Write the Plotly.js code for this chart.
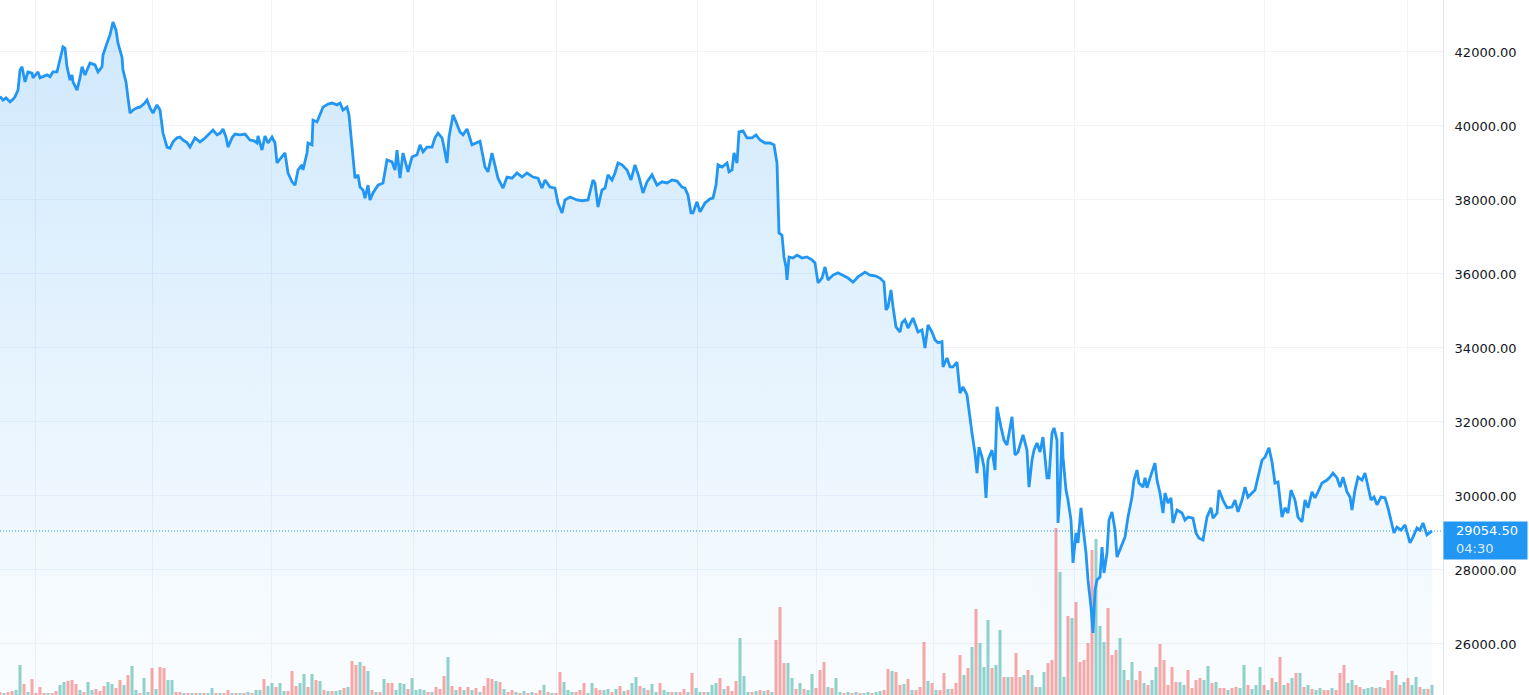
<!DOCTYPE html>
<html><head><meta charset="utf-8">
<script src="https://cdn.plot.ly/plotly-3.0.1.min.js"></script>
<style>html,body{margin:0;padding:0;background:#fff;overflow:hidden}#chart{width:1529px;height:695px}</style>
</head><body><div id="chart"></div>
<script>
// bar number (time) of each sampled close
const priceBar = [
0,3,6,10,13,15,18,20,22,25, 28,32,33,38,40,44,47,50,53,57, 60,63,65,67,70,72,73,77,80,82, 85,90,95,98,102,103,107,110,113,116,
118,122,123,126,128,130,133,137,140,144, 147,150,153,157,160,163,167,170,173,177, 180,183,187,190,195,200,204,207,213,217,
220,223,226,228,232,235,240,245,250,254, 257,258,262,265,268,272,275,277,282,285, 288,292,295,298,
302,303,307,308,312,313,317,320,323,328, 332,337,340,343,347,349,351,353,355,358, 360,363,365,368,370,373,378,383,387,392,
395,397,400,403,408,412,417,420,423,427, 432,435,438,442,444,447,449,453,456,460, 463,467,472,477,480,485,488,492,495,498,
503,507,512,517,522,527,533,538,542,545, 550,555,558,562,565,570,577,582,588,
593,595,598,602,605,608,612,615,618,622, 627,631,635,639,643,647,652,657,662,667, 672,677,682,685,688,691,693,697,700,705,
710,713,716,718,722,727,729,732,734,737, 739,743,747,752,756,760,765,770,774,777, 778,779,782,784,786,787,789,793,797,802,
807,812,815,818,822,825,828,833,838,843, 848,853,858,865,870,875,880,
884,886,888,891,893,896,900,902,905,908, 913,918,922,925,928,932,935,938,942,943, 947,950,953,957,960,963,967,969,972,975,
977,979,982,984,986,988,992,995,997,1001, 1004,1007,1012,1015,1018,1023,1027,1029,1032,1034, 1037,1040,1043,1047,1049,1052,1054,1057,1058,1060,
1062,1063,1066,1068,1071,1073,1076,1078,1081,1083, 1086,1088,1091,1093,1095,1097,1100,1102,1104,1107, 1109,1112,1115,1117,
1120,1125,1128,1132,1134,1137,1139,1143,1145,1147, 1151,1155,1157,1160,1163,1165,1168,1171,1173,1177, 1182,1185,1188,1193,1196,1199,1203,1207,1211,1213,
1217,1219,1223,1227,1232,1235,1238,1242,1245,1248, 1252,1255,1258,1262,1265,1269,1272,1275,1278,1282, 1285,1288,1291,1295,1298,1302,1305,1308,1312,1315,
1318,1322,1327,1330,1333,1337,1340,1343,1347,1350, 1352,1355,1358,1362,1365,1368,1371,1374,1377,1381, 1385,1388,1392,1394,1397,1401,1405,1407,1410,1413,
1417,1420,1423,1427,1429,1432
];
const closePrice = [
40800,40700,40760,40650,40720,40790,40970,41510,41600,41190, 41460,41430,41300,41460,41300,41350,41380,41330,41460,41460, 41840,42140,42100,41600,41240,41380,41190,40970,41300,41600, 41380,41700,41650,41460,41600,41920,42240,42460,42810,42590,
42240,41860,41510,41190,40760,40350,40430,40490,40510,40600, 40700,40490,40350,40570,40430,39810,39430,39400,39570,39680, 39700,39620,39550,39430,39680,39570,39650,39730,39890,39760,
39800,39920,39700,39430,39680,39780,39760,39780,39620,39600, 39540,39730,39350,39730,39540,39700,39540,39000,39160,39270, 38730,38490,38400,38810,
38950,38810,39270,39540,39490,40160,40110,40300,40510,40590, 40620,40570,40620,40430,40510,40300,39810,39160,38590,38680, 38350,38270,38050,38400,38000,38190,38400,38460,39080,39030,
38810,39350,38590,39270,38760,39160,39220,39490,39300,39430, 39430,39680,39810,39680,39430,39000,39700,40300,40110,39840, 39760,39920,39490,39540,39590,38890,38760,39270,38890,38590,
38320,38620,38590,38730,38620,38730,38620,38590,38320,38540, 38350,38320,37920,37650,38000,38080,38000,37980,38000,
38540,38460,37810,38270,38320,38680,38540,38730,39000,38950, 38810,38540,38950,38620,38190,38490,38680,38400,38490,38460, 38540,38510,38350,38320,38130,37650,37650,37950,37680,37920,
38030,38050,38400,38950,38890,39000,38760,38810,39270,39000, 39840,39870,39680,39680,39760,39620,39540,39540,39490,39000, 38270,37110,37050,36460,36190,35840,36460,36430,36510,36430,
36460,36380,36300,35760,35890,36190,35840,35970,36030,35970, 35890,35780,35920,36050,35970,35950,35890,
35780,35030,35110,35570,35110,34570,34430,34680,34760,34540, 34810,34430,34490,34000,34620,34430,34220,34140,34170,33490, 33730,33490,33490,33620,32780,32950,32730,32270,31700,31160,
30620,31320,31050,30780,29950,30970,31240,30700,32410,31860, 31510,31380,32140,31110,31190,31650,31240,30240,30970,31240, 31430,31190,31590,30490,30490,31700,31840,31510,29270,30080,
31730,31050,30160,29890,29350,28190,29000,28730,29680,29160, 28460,27730,27000,26300,27460,27730,27810,28620,27920,28460, 29350,29570,29080,28350,
28540,28890,29430,29970,30430,30700,30350,30240,30490,30220, 30570,30890,30430,30080,29540,30080,29810,29950,29270,29620, 29540,29350,29430,29400,29000,28860,28810,29430,29680,29400,
29540,30160,29890,29680,29700,29890,29570,29890,30240,29970, 30080,30160,30510,30970,31050,31300,30920,30350,30380,29430, 29680,29540,30160,29890,29430,29300,29890,29680,30110,29950,
30110,30350,30430,30510,30620,30490,30240,30510,30110,29970, 29620,30160,30510,30430,30620,30240,29890,29970,29760,29970, 29950,29680,29270,29000,29160,29080,29220,29030,28730,28890,
29140,29080,29270,28950,29000,29054.5
];
// volume, one bar every 4 bar numbers starting at 0
const volume = [
3,2,3,4,5,30,11,3,16,2, 8,2,2,2,4,10,13,14,15,11, 5,3,13,5,6,4,9,13,11,7, 15,10,20,29,5,2,17,3,27,6,
28,27,15,15,3,3,2,2,2,2, 2,2,2,7,2,2,2,5,2,2, 2,2,3,2,5,5,16,9,12,8, 12,4,4,24,9,12,21,8,21,15,
14,5,4,4,4,5,7,8,34,30, 33,29,24,5,3,3,16,12,12,5, 12,11,6,17,5,6,5,3,3,8, 6,19,38,9,5,8,5,8,5,7,
3,9,17,16,14,13,6,3,5,3, 2,4,2,3,2,5,10,3,2,2, 23,13,5,3,3,5,12,2,12,7, 5,5,6,3,6,9,4,5,12,18,
9,7,5,11,3,12,5,3,3,3, 3,6,3,22,7,3,3,3,10,12, 17,6,9,4,14,57,19,3,3,4, 5,4,5,3,55,88,32,32,17,6,
12,6,5,21,7,25,33,8,7,17, 3,2,3,2,3,2,2,3,2,3, 4,5,26,24,23,10,11,16,5,5, 8,53,14,12,5,5,22,6,6,12,
40,20,27,48,86,52,28,75,27,30, 65,18,18,18,42,18,20,25,20,8, 8,23,32,35,167,123,18,79,77,93, 33,35,52,145,156,69,53,87,40,45,
57,25,15,33,15,24,12,10,15,28, 51,35,10,28,13,13,10,25,7,15, 17,15,29,12,13,7,7,5,7,8, 7,30,10,6,10,28,10,5,17,13,
38,10,12,17,22,22,8,10,6,5, 7,5,5,7,5,22,30,12,15,10, 8,6,7,8,7,8,7,15,24,20, 10,13,17,10,18,8,6,6,10
];
// g = up bar, r = down bar
const volumeDirection = (
"rgrrggrgrr"+"rrgrrggrrr"+"grggrrrggr"+"rgrggrggrg"+"rrggrrgrgr"+"grggrgrrgr"+"grgrggrggr"+"ggrrrggrgr"+"grgrggrgrr"+"grgrgrgrrg"+"ggrggggrgr"+"rrgrgrgrgr"+
"grrrgrgrrg"+"rgrgrrgrgr"+"rgggrrrggr"+"rggrgrgrgg"+"rgrggrggrg"+"rrgrggrggg"+"rgrrrgggrg"+"rgrgrrrggr"+"grggrrrgrg"+"grgrgrggrg"+"grrgrrgrgr"+"rrgrgrrgrr"+
"rgrgrgggrg"+"grgrrrgrgr"+"ggrrrggrgr"+"rrrrgggrrr"+"ggrgrrgrgg"+"rrrrrggrrr"+"rggrgrrgrr"+"ggrgggrgrg"+"rgrgrgrgrg"+"grrgrrrggr"+"rgggrgrrrg"+"rgrggrgrg"
).split("");
const volumeStep = 4;
const timeMarks = [35,152,271,413,556,697,816,933,1074,1264,1407];
const priceTicks = [26000,28000,30000,32000,34000,36000,38000,40000,42000];
const lastPrice = 29054.5;
const countdown = "04:30";

const priceRange = [24621, 43405];
const volumeBar = volume.map((v, i) => i * volumeStep);
const volumeColor = volumeDirection.map(d => d === "g" ? "rgba(38,166,154,0.5)" : "rgba(239,83,80,0.5)");
const topPrice = Math.max(...closePrice);
const font = "DejaVu Sans, sans-serif";

const traces = [
  {x: priceBar, y: closePrice, yaxis: "y", type: "scatter", mode: "lines",
   line: {width: 0, color: "rgba(0,0,0,0)"}, fill: "tozeroy",
   fillgradient: {type: "vertical", start: priceRange[0], stop: topPrice,
     colorscale: [[0, "rgba(33,150,243,0.02)"], [1, "rgba(33,150,243,0.21)"]]},
   hoverinfo: "skip"},
  {x: volumeBar, y: volume, yaxis: "y2", type: "bar", width: 3,
   marker: {color: volumeColor, line: {width: 0}}, hoverinfo: "skip"},
  {x: priceBar, y: closePrice, yaxis: "y3", type: "scatter", mode: "lines",
   line: {width: 2.8, color: "#2196f3"}, hoverinfo: "skip"}
];

const layout = {
  width: 1529, height: 695,
  margin: {l: 0, r: 86, t: 0, b: 0, pad: 0},
  paper_bgcolor: "#ffffff", plot_bgcolor: "#ffffff",
  showlegend: false,
  xaxis: {range: [0, 1443], tickvals: timeMarks, showticklabels: false, ticks: "",
          showgrid: true, gridcolor: "#f0f3fa", gridwidth: 1, zeroline: false, showline: false, fixedrange: true},
  yaxis: {range: priceRange, side: "right", tickvals: priceTicks, tickformat: ".2f",
          tickfont: {family: font, size: 13, color: "#131722"}, ticks: "", ticklabelstandoff: 8,
          showgrid: true, gridcolor: "#f0f3fa", gridwidth: 1, zeroline: false,
          showline: true, linecolor: "#e0e3eb", linewidth: 1, fixedrange: true},
  yaxis2: {overlaying: "y", range: [0, 695], visible: false, fixedrange: true},
  yaxis3: {overlaying: "y", range: priceRange, visible: false, fixedrange: true},
  shapes: [
    {type: "line", xref: "paper", x0: 0, x1: 1, yref: "y", y0: lastPrice, y1: lastPrice,
     line: {color: "#2196f3", width: 1, dash: "1px,2px"}, layer: "above"}
  ],
  annotations: [
    {xref: "paper", x: 1, xanchor: "left", yref: "y", y: lastPrice, yanchor: "top", yshift: 10,
     text: " ", width: 79, height: 33, borderpad: 2, bgcolor: "#2196f3", showarrow: false,
     font: {family: font, size: 13, color: "#ffffff"}},
    {xref: "paper", x: 1, xanchor: "left", xshift: 11, yref: "y", y: lastPrice, yanchor: "middle",
     text: lastPrice.toFixed(2), showarrow: false, font: {family: font, size: 13, color: "#ffffff"}},
    {xref: "paper", x: 1, xanchor: "left", xshift: 11, yref: "y", y: lastPrice, yanchor: "middle", yshift: -18,
     text: countdown, showarrow: false, font: {family: font, size: 13, color: "rgba(255,255,255,0.85)"}}
  ]
};

Plotly.newPlot("chart", traces, layout, {displayModeBar: false, staticPlot: true});
</script>
</body></html>
